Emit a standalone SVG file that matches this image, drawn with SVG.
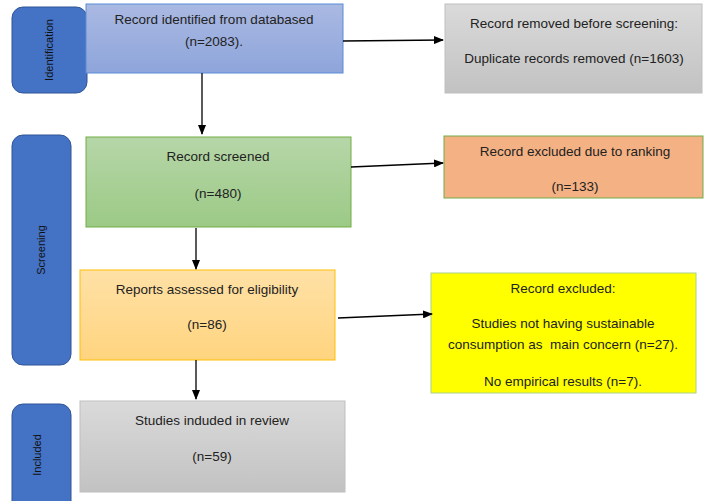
<svg xmlns="http://www.w3.org/2000/svg" width="705" height="501" viewBox="0 0 705 501">
<defs>
<linearGradient id="gBlue" x1="0" y1="0" x2="0" y2="1"><stop offset="0" stop-color="#AAB9E2"/><stop offset="1" stop-color="#8EA5DB"/></linearGradient>
<linearGradient id="gGray" x1="0" y1="0" x2="0" y2="1"><stop offset="0" stop-color="#DADADA"/><stop offset="1" stop-color="#C2C2C2"/></linearGradient>
<linearGradient id="gGreen" x1="0" y1="0" x2="0" y2="1"><stop offset="0" stop-color="#B6D6A8"/><stop offset="1" stop-color="#9CCA86"/></linearGradient>
<linearGradient id="gAmber" x1="0" y1="0" x2="0" y2="1"><stop offset="0" stop-color="#FFE1A6"/><stop offset="1" stop-color="#FFD47F"/></linearGradient>
<marker id="ah" markerWidth="10" markerHeight="8" refX="9" refY="4" orient="auto" markerUnits="userSpaceOnUse"><path d="M0,0 L10,4 L0,8 z" fill="#000"/></marker>
</defs>
<style>
text{font-family:"Liberation Sans",Arial,sans-serif;font-size:13.5px;fill:#222;text-anchor:middle;white-space:pre}
.side text{font-size:11px;fill:#111}
.side rect{fill:#4472C4;stroke:#2F5597;stroke-width:1}
.conn line{stroke:#000;stroke-width:1.3;marker-end:url(#ah)}
</style>
<rect width="705" height="501" fill="#fff"/>
<g id="side-identification" class="side"><rect x="12" y="7" width="75" height="86" rx="11"/><text transform="translate(49,50) rotate(-90)" dy="4">Identification</text></g>
<g id="side-screening" class="side"><rect x="12" y="135" width="59" height="230" rx="11"/><text transform="translate(41,250) rotate(-90)" dy="4">Screening</text></g>
<g id="side-included" class="side"><rect x="12" y="404" width="59" height="110" rx="11"/><text transform="translate(37,455) rotate(-90)" dy="4">Included</text></g>

<g id="identified"><rect x="86" y="4" width="257" height="69" fill="url(#gBlue)" stroke="#5B8BD6"/><text x="214" y="24">Record identified from databased</text><text x="214" y="46">(n=2083).</text></g>
<g id="removed"><rect x="445" y="4" width="257" height="89" fill="url(#gGray)" stroke="#BFBFBF"/><text x="574" y="28">Record removed before screening:</text><text x="574" y="63">Duplicate records removed (n=1603)</text></g>
<g id="screened"><rect x="86" y="137" width="265" height="90" fill="url(#gGreen)" stroke="#70AD47"/><text x="218" y="161">Record screened</text><text x="218" y="198">(n=480)</text></g>
<g id="ranking"><rect x="444" y="136" width="259" height="62" fill="#F4B183" stroke="#70AD47"/><text x="575" y="156">Record excluded due to ranking</text><text x="575" y="191">(n=133)</text></g>
<g id="assessed"><rect x="80" y="270" width="255" height="90" fill="url(#gAmber)" stroke="#FFC000"/><text x="207" y="294">Reports assessed for eligibility</text><text x="207" y="329">(n=86)</text></g>
<g id="excluded"><rect x="431" y="273" width="265" height="120" fill="#FFFF00" stroke="#A9D18E"/><text x="563" y="293">Record excluded:</text><text x="563" y="328">Studies not having sustainable</text><text x="563" y="349">consumption as  main concern (n=27).</text><text x="563" y="386">No empirical results (n=7).</text></g>
<g id="included"><rect x="80" y="401" width="265" height="91" fill="url(#gGray)" stroke="#BFBFBF"/><text x="212" y="425">Studies induded in review</text><text x="212" y="461">(n=59)</text></g>

<g id="connectors" class="conn">
<line x1="343" y1="41" x2="443" y2="40"/>
<line x1="202" y1="73" x2="202" y2="134"/>
<line x1="351" y1="167" x2="443" y2="163"/>
<line x1="196" y1="228" x2="196" y2="269"/>
<line x1="338" y1="318" x2="432" y2="314"/>
<line x1="196" y1="360" x2="196" y2="399"/>
</g>
</svg>
